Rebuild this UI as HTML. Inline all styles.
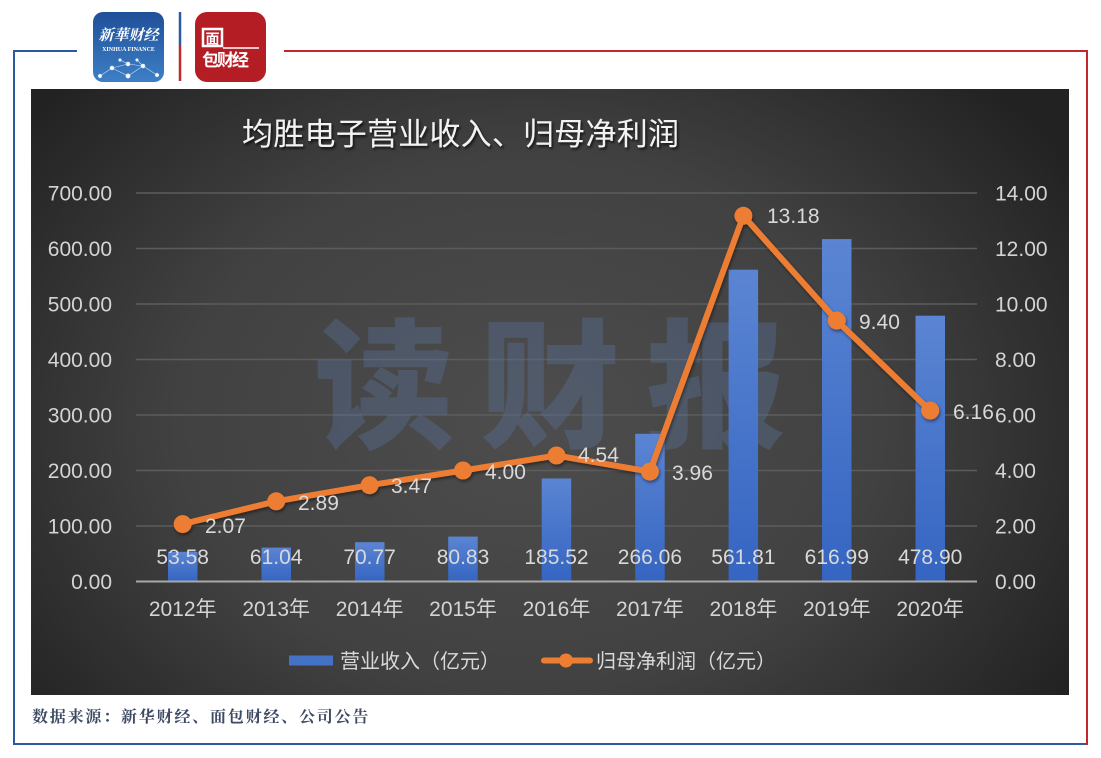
<!DOCTYPE html>
<html><head><meta charset="utf-8"><style>
html,body{margin:0;padding:0;background:#fff;}
svg{display:block;}
text{font-family:"Liberation Sans","Noto Sans CJK SC",sans-serif;}
</style></head><body>
<svg width="1101" height="758" viewBox="0 0 1101 758" xmlns="http://www.w3.org/2000/svg">
<defs>
<radialGradient id="bg" cx="0.48" cy="0.55" r="0.62" gradientTransform="translate(0.48 0.55) scale(1 1.3) translate(-0.48 -0.55)">
<stop offset="0" stop-color="#4d4d4d"/>
<stop offset="0.55" stop-color="#414141"/>
<stop offset="1" stop-color="#222"/>
</radialGradient>
<linearGradient id="bar" x1="0" y1="0" x2="0" y2="1">
<stop offset="0" stop-color="#5b85d3"/>
<stop offset="1" stop-color="#3565c2"/>
</linearGradient>
<linearGradient id="blueLogo" x1="0" y1="0" x2="0" y2="1">
<stop offset="0" stop-color="#1f4f98"/>
<stop offset="1" stop-color="#3d7fc6"/>
</linearGradient>
<filter id="ts" x="-5%" y="-20%" width="110%" height="150%">
<feDropShadow dx="1.5" dy="2" stdDeviation="1.2" flood-color="#000" flood-opacity="0.7"/>
</filter>
<filter id="ls" x="-5%" y="-5%" width="110%" height="115%">
<feDropShadow dx="1" dy="2" stdDeviation="1.5" flood-color="#000" flood-opacity="0.45"/>
</filter>
</defs>

<!-- frame lines -->
<line x1="13" y1="51" x2="77" y2="51" stroke="#2b5aa0" stroke-width="2"/>
<line x1="14" y1="50" x2="14" y2="745" stroke="#2b5aa0" stroke-width="2"/>
<line x1="13" y1="744" x2="1088" y2="744" stroke="#2b5aa0" stroke-width="2"/>
<line x1="284" y1="51" x2="1088" y2="51" stroke="#c0282e" stroke-width="2"/>
<line x1="1087" y1="50" x2="1087" y2="745" stroke="#c0282e" stroke-width="2"/>

<!-- logos -->
<rect x="93" y="12" width="71" height="70" rx="10" fill="url(#blueLogo)"/>
<text x="128.5" y="40" text-anchor="middle" font-size="15" font-style="italic" font-weight="bold" fill="#fff" style="font-family:'Noto Serif CJK SC',serif">新華财经</text>
<text x="128.5" y="51" text-anchor="middle" font-size="6" font-weight="bold" fill="#fff" style="font-family:'Liberation Serif',serif">XINHUA FINANCE</text>
<g fill="#fff" stroke="#cfe0f4" stroke-width="0.6">
<line x1="100" y1="76" x2="112" y2="68"/><line x1="112" y1="68" x2="128" y2="64"/><line x1="128" y1="64" x2="143" y2="66"/><line x1="143" y1="66" x2="157" y2="75"/>
<line x1="112" y1="68" x2="128" y2="76"/><line x1="128" y1="76" x2="143" y2="66"/><line x1="120" y1="60" x2="128" y2="64"/><line x1="137" y1="60" x2="143" y2="66"/>
<circle cx="100" cy="76" r="1.8"/><circle cx="112" cy="68" r="2"/><circle cx="128" cy="64" r="2"/><circle cx="143" cy="66" r="2"/><circle cx="157" cy="75" r="1.8"/><circle cx="128" cy="76" r="2.2"/><circle cx="120" cy="60" r="1.3"/><circle cx="137" cy="60" r="1.3"/>
</g>
<line x1="180" y1="12" x2="180" y2="46" stroke="#2b5aa0" stroke-width="2.5"/>
<line x1="180" y1="46" x2="180" y2="81" stroke="#c0282e" stroke-width="2.5"/>
<rect x="195" y="12" width="71" height="70" rx="12" fill="#b51d25"/>
<rect x="203" y="29" width="19" height="17" fill="none" stroke="#fff" stroke-width="2.5"/>
<text x="212.5" y="44" text-anchor="middle" font-size="14" fill="#fff" font-weight="bold">面</text>
<text x="202" y="66" font-size="17" fill="#fff" font-weight="bold" letter-spacing="-2">包财经</text>
<line x1="223" y1="48" x2="259" y2="48" stroke="#fff" stroke-width="1.5"/>

<!-- chart bg -->
<rect x="31" y="89" width="1038" height="606" fill="url(#bg)"/>

<!-- title -->
<text x="242" y="145" font-size="31" textLength="437" lengthAdjust="spacing" fill="#f2f2f2" filter="url(#ts)">均胜电子营业收入、归母净利润</text>

<!-- gridlines -->
<g stroke="#5c5c5c" stroke-width="1.5">
<line x1="136" y1="193" x2="977" y2="193"/>
<line x1="136" y1="248.5" x2="977" y2="248.5"/>
<line x1="136" y1="304" x2="977" y2="304"/>
<line x1="136" y1="359.5" x2="977" y2="359.5"/>
<line x1="136" y1="415" x2="977" y2="415"/>
<line x1="136" y1="470.5" x2="977" y2="470.5"/>
<line x1="136" y1="526" x2="977" y2="526"/>
</g>

<!-- watermark -->
<g fill="#5b79a8" opacity="0.33" font-size="140" font-weight="900" style="font-family:'Noto Sans CJK SC',sans-serif">
<text x="314" y="437">读</text>
<text x="480" y="437">财</text>
<text x="646" y="437">报</text>
</g>

<!-- axis labels left -->
<g font-size="21" fill="#d4d4d4" text-anchor="end">
<text x="112" y="200.5">700.00</text>
<text x="112" y="256">600.00</text>
<text x="112" y="311.5">500.00</text>
<text x="112" y="367">400.00</text>
<text x="112" y="422.5">300.00</text>
<text x="112" y="478">200.00</text>
<text x="112" y="533.5">100.00</text>
<text x="112" y="589">0.00</text>
</g>
<!-- axis labels right -->
<g font-size="21" fill="#d4d4d4">
<text x="995" y="200.5">14.00</text>
<text x="995" y="256">12.00</text>
<text x="995" y="311.5">10.00</text>
<text x="995" y="367">8.00</text>
<text x="995" y="422.5">6.00</text>
<text x="995" y="478">4.00</text>
<text x="995" y="533.5">2.00</text>
<text x="995" y="589">0.00</text>
</g>

<!-- bars -->
<g fill="url(#bar)">
<rect x="168" y="551.8" width="29.5" height="29.7"/>
<rect x="261.5" y="547.6" width="29.5" height="33.9"/>
<rect x="355" y="542.2" width="29.5" height="39.3"/>
<rect x="448.2" y="536.6" width="29.5" height="44.9"/>
<rect x="541.7" y="478.5" width="29.5" height="103"/>
<rect x="635.2" y="433.8" width="29.5" height="147.7"/>
<rect x="728.6" y="269.7" width="29.5" height="311.8"/>
<rect x="822" y="239.1" width="29.5" height="342.4"/>
<rect x="915.5" y="315.7" width="29.5" height="265.8"/>
</g>

<!-- baseline -->
<line x1="136" y1="581.5" x2="977" y2="581.5" stroke="#a8a8a8" stroke-width="2"/>

<!-- bar labels -->
<g font-size="21" fill="#d9d9d9" text-anchor="middle">
<text x="182.7" y="564">53.58</text>
<text x="276.2" y="564">61.04</text>
<text x="369.6" y="564">70.77</text>
<text x="463" y="564">80.83</text>
<text x="556.5" y="564">185.52</text>
<text x="649.9" y="564">266.06</text>
<text x="743.4" y="564">561.81</text>
<text x="836.8" y="564">616.99</text>
<text x="930.2" y="564">478.90</text>
</g>

<!-- line -->
<g filter="url(#ls)">
<polyline points="182.7,524.1 276.2,501.3 369.6,485.2 463,470.5 556.5,455.5 649.9,471.6 743.4,215.8 836.8,320.6 930.2,410.6" fill="none" stroke="#ed7d31" stroke-width="6" stroke-linejoin="round"/>
<g fill="#ed7d31">
<circle cx="182.7" cy="524.1" r="9"/>
<circle cx="276.2" cy="501.3" r="9"/>
<circle cx="369.6" cy="485.2" r="9"/>
<circle cx="463" cy="470.5" r="9"/>
<circle cx="556.5" cy="455.5" r="9"/>
<circle cx="649.9" cy="471.6" r="9"/>
<circle cx="743.4" cy="215.8" r="9"/>
<circle cx="836.8" cy="320.6" r="9"/>
<circle cx="930.2" cy="410.6" r="9"/>
</g>
</g>

<!-- line labels -->
<g font-size="21" fill="#d9d9d9">
<text x="205" y="533">2.07</text>
<text x="298" y="510">2.89</text>
<text x="391" y="493">3.47</text>
<text x="485" y="479">4.00</text>
<text x="578" y="462">4.54</text>
<text x="672" y="480">3.96</text>
<text x="767" y="223">13.18</text>
<text x="859" y="329">9.40</text>
<text x="953" y="419">6.16</text>
</g>

<!-- x labels -->
<g font-size="21" fill="#d4d4d4" text-anchor="middle">
<text x="182.7" y="616">2012年</text>
<text x="276.2" y="616">2013年</text>
<text x="369.6" y="616">2014年</text>
<text x="463" y="616">2015年</text>
<text x="556.5" y="616">2016年</text>
<text x="649.9" y="616">2017年</text>
<text x="743.4" y="616">2018年</text>
<text x="836.8" y="616">2019年</text>
<text x="930.2" y="616">2020年</text>
</g>

<!-- legend -->
<rect x="289" y="655.5" width="44" height="10" fill="#4472c4"/>
<text x="340" y="668" font-size="20" fill="#d9d9d9">营业收入（亿元）</text>
<line x1="544" y1="660.5" x2="590" y2="660.5" stroke="#ed7d31" stroke-width="6" stroke-linecap="round"/>
<circle cx="566" cy="660.5" r="7" fill="#ed7d31"/>
<text x="596" y="668" font-size="20" fill="#d9d9d9">归母净利润（亿元）</text>

<!-- source -->
<text x="32" y="722" font-size="16" font-weight="bold" letter-spacing="1.8" fill="#3d4a63" style="font-family:'Noto Serif CJK SC','Noto Sans CJK SC',serif">数据来源：新华财经、面包财经、公司公告</text>
</svg>
</body></html>
